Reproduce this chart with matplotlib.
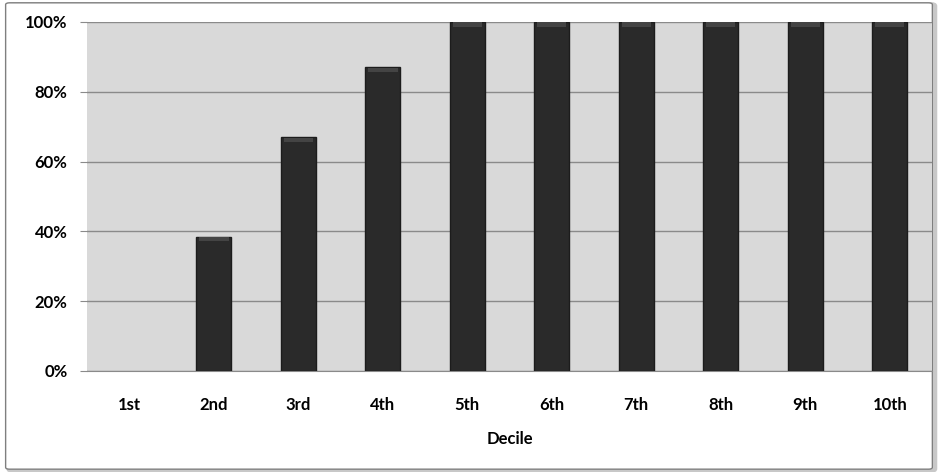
import matplotlib.pyplot as plt
from matplotlib.patches import FancyBboxPatch
import numpy as np

# share of firms in each decile (percent)
deciles = ['1st', '2nd', '3rd', '4th', '5th', '6th', '7th', '8th', '9th', '10th']
share = [0, 38.5, 67, 87, 100, 100, 100, 100, 100, 100]
yticks = [0, 20, 40, 60, 80, 100]

plt.rcParams['font.family'] = ['Lato', 'DejaVu Sans']

fig = plt.figure(figsize=(9.38, 4.72), dpi=100)

# outer chart frame with a soft shadow
shadow = FancyBboxPatch((0.009, 0.003), 0.988, 0.988, boxstyle='round,pad=0,rounding_size=0.004',
                        transform=fig.transFigure, facecolor='none', edgecolor='#c8c8c8', lw=3, zorder=-10)
frame = FancyBboxPatch((0.006, 0.006), 0.988, 0.988, boxstyle='round,pad=0,rounding_size=0.004',
                       transform=fig.transFigure, facecolor='white', edgecolor='#7f7f7f', lw=1, zorder=-9)
fig.patches.extend([shadow, frame])

ax = fig.add_axes([0.0928, 0.214, 0.9008, 0.7394])
ax.set_facecolor('#d9d9d9')

x = np.arange(len(deciles))
w = 0.41
edge_lw = [1.0 if v > 0 else 0 for v in share]
ax.bar(x, share, width=w, color='#2a2a2a', edgecolor='#1c1c1c', linewidth=edge_lw, zorder=3)
# lighter bevel along the bar tops
for xi, v in zip(x, share):
    if v > 0:
        ax.bar(xi, 1.2, bottom=v - 1.3, width=w * 0.85, color='#444444', lw=0, zorder=4)

ax.set_xlim(-0.5, len(deciles) - 0.5)
ax.set_ylim(0, 100)
ax.set_yticks(yticks)
ax.set_yticklabels([f'{t}%' for t in yticks])
ax.set_xticks(x)
ax.set_xticklabels(deciles)
ax.yaxis.grid(True, color='#8a8a8a', lw=1)
ax.set_axisbelow(True)

for s in ['top', 'right', 'left']:
    ax.spines[s].set_visible(False)
ax.spines['bottom'].set_color('#8a8a8a')
ax.tick_params(axis='y', length=5, color='#8a8a8a', pad=9, labelsize=12)
ax.tick_params(axis='x', length=0, pad=19, labelsize=12)
for lab in ax.get_xticklabels() + ax.get_yticklabels():
    lab.set_fontweight('bold')

ax.set_xlabel('Decile', fontsize=12, fontweight='bold', labelpad=13)

fig.savefig('out.png', dpi=100)
